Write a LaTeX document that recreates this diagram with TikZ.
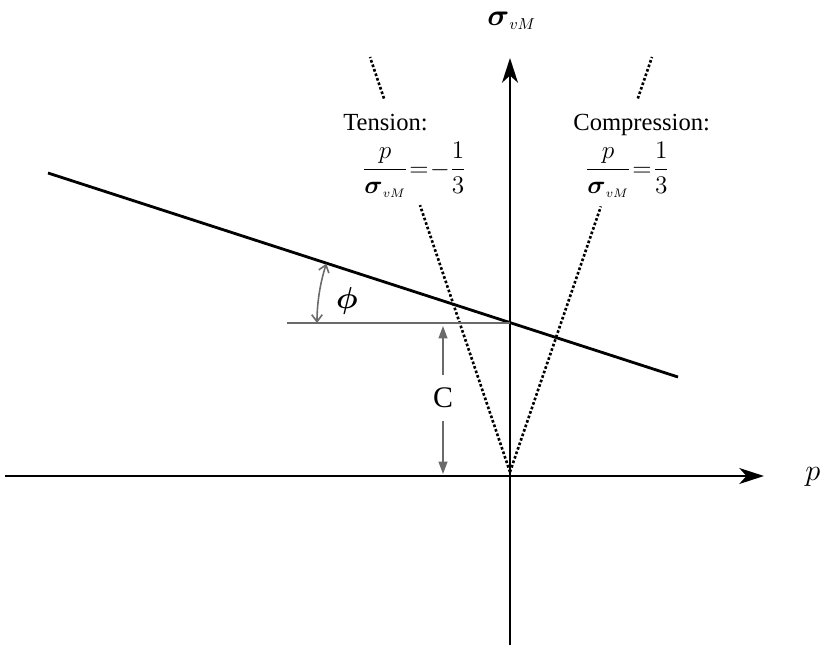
\documentclass[tikz,border=0pt]{standalone}
\usepackage{amsmath}
\usepackage{fontspec}
\setmainfont{Liberation Serif}
\usetikzlibrary{positioning,calc,arrows.meta}
\definecolor{axisBlack}{HTML}{000000}
\definecolor{dimGrey}{HTML}{6A6A6A}

\tikzset{
  axisline/.style={axisBlack, line width=1.6pt, -{Stealth[length=14pt,width=9pt,inset=4pt]}},
  yieldline/.style={axisBlack, line width=1.6pt},
  ratioline/.style={axisBlack, line width=1.5pt, dash pattern=on 1.5pt off 1.2pt},
  dimline/.style={dimGrey, line width=0.9pt},
  dimarrow/.style={dimline, -{Triangle[length=7pt,width=5pt]}},
  anglearrow/.style={dimline, {Straight Barb[length=4pt,width=6pt]}-{Straight Barb[length=4pt,width=6pt]}},
  lbl/.style={inner sep=0pt, font=\fontsize{14}{17}\selectfont},
  biglbl/.style={inner sep=0pt, font=\fontsize{19}{22}\selectfont},
}
% tight math spacing as in the ratio labels
\newcommand{\ratio}[1]{\thickmuskip=1mu\medmuskip=0mu$\dfrac{p}{\boldsymbol{\sigma}_{\scriptscriptstyle vM}}=#1$}

\begin{document}
\begin{tikzpicture}[x=0.02cm, y=-0.02cm]
\useasboundingbox (0,0) rectangle (823,647);

% --- AXES: p (horizontal) and sigma_vM (vertical) ---
\coordinate (pStart) at (5,476);
\coordinate (pEnd) at (764,476);
\coordinate (sStart) at (510,645);
\coordinate (sEnd) at (510,58);
\draw[axisline] (pStart) -- (pEnd);
\draw[axisline] (sStart) -- (sEnd);
\node[biglbl, anchor=base west] (pLabel) at (805,480) {$p$};
\node[biglbl, anchor=base west] (sigLabel) at (487,25) {$\boldsymbol{\sigma}_{\scriptscriptstyle vM}$};

% --- STRESS RATIO LINES (dotted, from the origin) ---
\coordinate (apex) at (510,472);
\coordinate (tenTop) at (370,57);
\coordinate (comTop) at (652,57);
\draw[ratioline] (apex) -- ($(apex)!0.643!(tenTop)$);
\draw[ratioline] ($(apex)!0.9!(tenTop)$) -- (tenTop);
\draw[ratioline] (apex) -- ($(apex)!0.64!(comTop)$);
\draw[ratioline] ($(apex)!0.9!(comTop)$) -- (comTop);

% --- LABELS of the ratio lines ---
\node[lbl, anchor=base west] (tenText) at (343,130) {Tension:};
\node[lbl, anchor=base west] (tenRatio) at (362,176) {\ratio{-\dfrac{1}{3}}};
\node[lbl, anchor=base west] (comText) at (573,130) {Compression:};
\node[lbl, anchor=base west] (comRatio) at (585,176) {\ratio{\dfrac{1}{3}}};

% --- YIELD LINE ---
\coordinate (yTop) at (48,173);
\coordinate (yBot) at (678,377);
\draw[yieldline] (yTop) -- (yBot);

% --- CUT-OFF C and reference line ---
\coordinate (cPt) at (510,323);
\coordinate (hStart) at (287,323);
\draw[dimline] (hStart) -- (cPt);
\coordinate (cTop) at (443,326);
\coordinate (cBot) at (443,474);
\node[lbl, font=\fontsize{17}{20}\selectfont, fill=white, inner ysep=7pt, inner xsep=2pt]
  (cLabel) at (443,398) {C};
\draw[dimarrow] (cLabel) -- (cTop);
\draw[dimarrow] (cLabel) -- (cBot);

% --- ANGLE phi ---
\coordinate (arcStart) at (317,323);
\draw[anglearrow] (arcStart) arc[start angle=180, end angle=162.06, radius=3.86cm];
\node[biglbl, font=\fontsize{17}{20}\selectfont] (phiLabel) at (347,301) {$\boldsymbol{\phi}$};

\end{tikzpicture}
\end{document}
